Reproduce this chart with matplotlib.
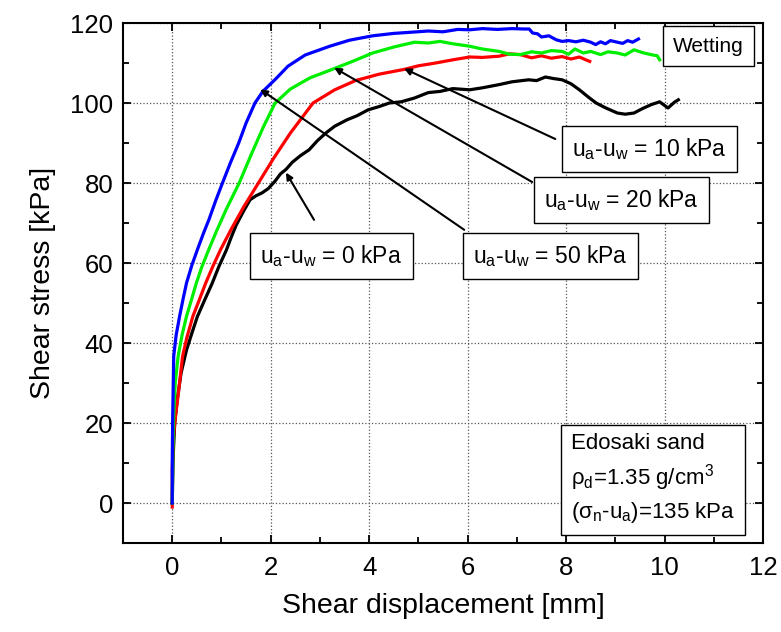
import matplotlib
matplotlib.use('Agg')
import matplotlib.pyplot as plt
from matplotlib.ticker import MultipleLocator

plt.rcParams['font.family'] = ['Liberation Sans', 'DejaVu Sans']
plt.rcParams['mathtext.fontset'] = 'custom'
plt.rcParams['mathtext.rm'] = 'Liberation Sans'
plt.rcParams['mathtext.default'] = 'regular'

# curves: shear displacement [mm] -> shear stress [kPa]
x_50 = [0, 0.0, 0.01, 0.03, 0.08, 0.15, 0.22, 0.29, 0.4, 0.51, 0.63, 0.75, 0.88, 1.02, 1.18, 1.35,
        1.5, 1.68, 1.84, 2.1, 2.35, 2.7, 3.2, 3.6, 4.07, 4.5, 4.92, 5.2, 5.5, 5.8, 6.04, 6.3, 6.6,
        6.9, 7.15, 7.25, 7.32, 7.42, 7.5, 7.65, 7.8, 7.92, 8.05, 8.2, 8.35, 8.5, 8.6, 8.7, 8.8, 8.9,
        9.04, 9.15, 9.25, 9.35, 9.47]
y_50 = [0, 10, 22, 36.7, 42, 46.7, 51, 55, 59.5, 63.3, 67.3, 71, 75.5, 80, 85, 90,
        95, 100, 102.9, 106, 109.2, 112, 114.2, 115.7, 116.8, 117.4, 117.75, 118, 117.8, 118.4, 118.3, 118.6, 118.4,
        118.6, 118.5, 118.5, 117.5, 117.3, 116.5, 116.8, 115.8, 115.4, 115.6, 115.3, 115.7, 115.2, 114.6, 115.3, 114.8, 115.6,
        115.2, 114.9, 115.6, 115.2, 116.0]

x_20 = [0, 0.01, 0.03, 0.06, 0.12, 0.2, 0.29, 0.39, 0.49, 0.6, 0.74, 0.9, 1.1, 1.36, 1.6, 1.85,
        2.09, 2.4, 2.8, 3.29, 3.7, 4.07, 4.5, 4.92, 5.2, 5.44, 5.7, 6.04, 6.3, 6.64, 6.85, 7.07,
        7.3, 7.5, 7.7, 7.92, 8.05, 8.18, 8.35, 8.5, 8.7, 8.85, 9.04, 9.2, 9.38, 9.55, 9.72, 9.85, 9.9]
y_20 = [0, 12, 22, 30, 36.7, 42, 46.7, 50.8, 55, 59, 63.3, 68, 73.5, 80, 87, 94,
        100, 103.5, 106.3, 108.6, 110.6, 112.5, 114, 115.2, 115.0, 115.4, 114.8, 114.2, 113.5, 112.9, 112.2, 112.1,
        112.8, 112.5, 113.1, 112.9, 112.2, 113.5, 112.5, 112.9, 112.1, 112.8, 112.5, 112.0, 113.3, 112.6, 112.1, 111.8, 110.8]

x_10 = [0, 0.0, 0.02, 0.06, 0.12, 0.21, 0.3, 0.42, 0.55, 0.68, 0.83, 0.98, 1.2, 1.45, 1.75, 2.05,
        2.4, 2.86, 3.3, 3.72, 4.2, 4.71, 5.0, 5.35, 5.7, 6.04, 6.3, 6.64, 6.85, 7.07, 7.3, 7.5,
        7.7, 7.92, 8.1, 8.27, 8.4, 8.48]
y_10 = [-1, 8, 16, 21, 27, 36.7, 41.5, 46.7, 50.8, 55, 59.3, 63.3, 68.5, 74, 80, 86,
        92.5, 100, 103.3, 105.6, 107.2, 108.4, 109.3, 110, 110.8, 111.5, 111.4, 111.7, 112.3, 112.1, 111.3, 111.8,
        111.2, 111.6, 111.0, 111.5, 110.8, 110.4]

x_0 = [0, 0.02, 0.05, 0.1, 0.18, 0.29, 0.4, 0.51, 0.66, 0.81, 0.95, 1.1, 1.2, 1.3, 1.45, 1.58,
       1.7, 1.82, 1.95, 2.09, 2.2, 2.31, 2.44, 2.6, 2.78, 2.95, 3.12, 3.3, 3.55, 3.75, 3.98, 4.2,
       4.41, 4.65, 4.92, 5.2, 5.44, 5.7, 6.04, 6.3, 6.64, 6.9, 7.24, 7.4, 7.58, 7.75, 7.92, 8.1,
       8.27, 8.45, 8.61, 8.8, 9.04, 9.2, 9.38, 9.55, 9.73, 9.9, 10.07, 10.2, 10.28]
y_0 = [0, 12, 20, 25.75, 32.5, 38.25, 42.5, 46.6, 50.8, 54.9, 59.2, 63.25, 66.5, 69.5, 73, 75.8,
       76.8, 77.5, 78.6, 80.5, 82.3, 83.4, 85.2, 86.8, 88.3, 90.6, 92.5, 94.2, 95.8, 96.8, 98.3, 99.1,
       100, 100.3, 101.25, 102.6, 102.9, 103.6, 103.3, 103.8, 104.6, 105.3, 105.8, 105.6, 106.5, 106.1, 105.8, 104.8,
       103.3, 101.5, 100, 98.8, 97.5, 97.2, 97.5, 98.6, 99.6, 100.3, 98.75, 100.2, 100.8]

fig = plt.figure(figsize=(7.81, 6.32), dpi=100)
ax = fig.add_axes([0.1575, 0.1408, 0.8195, 0.8228])

ax.plot(x_0, y_0, color='black', lw=2.3, zorder=3)
ax.plot(x_10, y_10, color='red', lw=2.3, zorder=3)
ax.plot(x_20, y_20, color='#00ee00', lw=2.3, zorder=3)
ax.plot(x_50, y_50, color='blue', lw=2.3, zorder=4)

ax.set_xlim(-1, 12)
ax.set_ylim(-10, 120)
ax.xaxis.set_major_locator(MultipleLocator(2))
ax.xaxis.set_minor_locator(MultipleLocator(1))
ax.yaxis.set_major_locator(MultipleLocator(20))
ax.yaxis.set_minor_locator(MultipleLocator(10))
ax.tick_params(which='both', direction='in', top=True, right=True, width=1.3)
ax.tick_params(which='major', length=6, labelsize=18.5)
ax.tick_params(which='minor', length=4)
ax.tick_params(axis='x', pad=9)
ax.tick_params(axis='y', pad=7)
ax.grid(True, which='major', color='#555555', linestyle=':', linewidth=0.9)
for sp in ax.spines.values():
    sp.set_linewidth(1.5)

ax.set_xlabel('Shear displacement [mm]', fontsize=20.5, labelpad=10)
ax.set_ylabel('Shear stress [kPa]', fontsize=20.5, labelpad=10)

box = dict(boxstyle='square,pad=0.45', fc='white', ec='black', lw=1)
labels = ['u$_a$-u$_w$ = 10 kPa', 'u$_a$-u$_w$ = 20 kPa', 'u$_a$-u$_w$ = 50 kPa', 'u$_a$-u$_w$ = 0 kPa']
label_pos = [(9.7, 88.5), (9.12, 75.75), (7.68, 61.75), (3.23, 61.75)]
arrow_tail = [(7.78, 91), (7.31, 80.25), (5.93, 68.3), (2.88, 70.8)]
arrow_tip = [(4.71, 108.6), (3.29, 108.8), (1.79, 103.4), (2.31, 82.6)]

for lab, pos, tail, tip in zip(labels, label_pos, arrow_tail, arrow_tip):
    ax.annotate('', xy=tip, xytext=tail,
                arrowprops=dict(arrowstyle='-|>', color='black', lw=1.5,
                                mutation_scale=10, shrinkA=0, shrinkB=0), zorder=5)
    ax.text(pos[0], pos[1], lab, fontsize=16.5, ha='center', va='center', bbox=box, zorder=6)

ax.text(10.89, 114.25, 'Wetting', fontsize=15, ha='center', va='center',
        bbox=dict(boxstyle='square,pad=0.5', fc='white', ec='black', lw=1), zorder=6)

ax.text(8.1, 6.0, 'Edosaki sand\nρ$_d$=1.35 g/cm$^3$\n(σ$_n$-u$_a$)=135 kPa', fontsize=16,
        ha='left', va='center', linespacing=1.35,
        bbox=dict(boxstyle='square,pad=0.45', fc='white', ec='black', lw=1), zorder=6)

plt.savefig('out.png', dpi=100)
plt.close()
